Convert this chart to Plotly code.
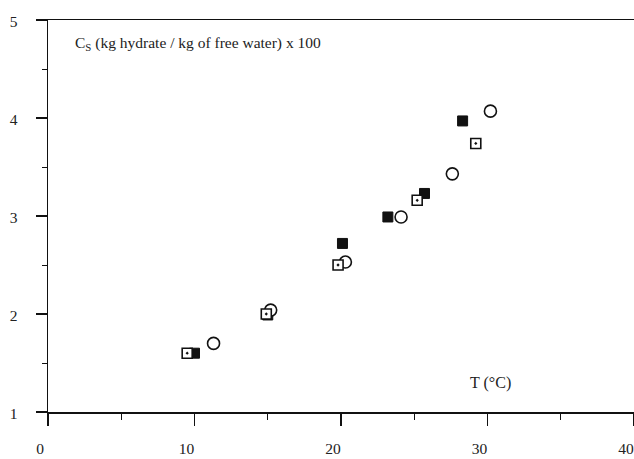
import plotly.graph_objects as go

# Data
filled_T = [10.0, 15.0, 20.1, 23.2, 25.7, 28.3]
filled_C = [1.60, 1.99, 2.72, 2.99, 3.23, 3.97]

circle_T = [11.3, 15.2, 20.3, 24.1, 27.6, 30.2]
circle_C = [1.70, 2.04, 2.53, 2.99, 3.43, 4.07]

open_T = [9.5, 14.9, 19.8, 25.2, 29.2]
open_C = [1.60, 2.00, 2.50, 3.16, 3.74]

x_ticks = [0, 10, 20, 30, 40]
x_labels = ["0", "10", "20", "30", "40"]
y_ticks = [1, 2, 3, 4, 5]
y_labels = ["1", "2", "3", "4", "5"]

FONT = "Liberation Serif"
INK = "#111111"
TXT = "#222222"
FS = 15.5

fig = go.Figure()
fig.add_trace(go.Scatter(
    x=filled_T, y=filled_C, mode="markers",
    marker=dict(symbol="square", size=10, color=INK, line=dict(color=INK, width=1)),
    showlegend=False))
fig.add_trace(go.Scatter(
    x=circle_T, y=circle_C, mode="markers",
    marker=dict(symbol="circle", size=12, color="white", line=dict(color=INK, width=1.6)),
    showlegend=False))
fig.add_trace(go.Scatter(
    x=open_T, y=open_C, mode="markers",
    marker=dict(symbol="square-dot", size=10, color="white", line=dict(color=INK, width=1.6)),
    showlegend=False))

fig.update_layout(
    width=634, height=459,
    margin=dict(l=48, r=0, t=20, b=47, autoexpand=False),
    paper_bgcolor="white", plot_bgcolor="white",
    font=dict(family=FONT, size=FS, color=TXT),
    hovermode=False,
    xaxis=dict(
        range=[0, 40], showgrid=False, zeroline=False,
        showline=True, linecolor=INK, linewidth=1.5, mirror=True,
        tickmode="array", tickvals=x_ticks, ticktext=x_labels,
        ticks="outside", ticklen=12, tickwidth=1.2, tickcolor=INK,
        ticklabelstandoff=10, ticklabelshift=-8, ticklabeloverflow="allow",
        minor=dict(dtick=5, ticks="outside", ticklen=6, tickwidth=1, tickcolor=INK, showgrid=False),
        tickfont=dict(family=FONT, size=FS, color=TXT),
    ),
    yaxis=dict(
        range=[1, 5], showgrid=False, zeroline=False,
        showline=True, linecolor=INK, linewidth=1.5,
        tickmode="array", tickvals=y_ticks, ticktext=y_labels,
        ticks="outside", ticklen=11, tickwidth=1.2, tickcolor=INK,
        ticklabelstandoff=15, ticklabelshift=2, ticklabeloverflow="allow",
        minor=dict(dtick=0.5, ticks="outside", ticklen=5, tickwidth=1, tickcolor=INK, showgrid=False),
        tickfont=dict(family=FONT, size=FS, color=TXT),
    ),
    annotations=[
        dict(text="C<sub>S</sub> (kg hydrate / kg of free water) x 100",
             xref="paper", yref="paper", x=0.0427, y=0.939,
             xanchor="left", yanchor="middle", showarrow=False,
             font=dict(family=FONT, size=FS, color=TXT)),
        dict(text="T (°C)",
             xref="paper", yref="paper", x=0.794, y=0.074,
             xanchor="right", yanchor="middle", showarrow=False,
             font=dict(family=FONT, size=16, color=TXT)),
    ],
)

# remove the default page margin so the figure fills the window exactly
fig.write_html(
    "out.html",
    config={"displayModeBar": False, "staticPlot": True},
    post_script="document.body.style.margin='0';document.body.style.overflow='hidden';",
)
